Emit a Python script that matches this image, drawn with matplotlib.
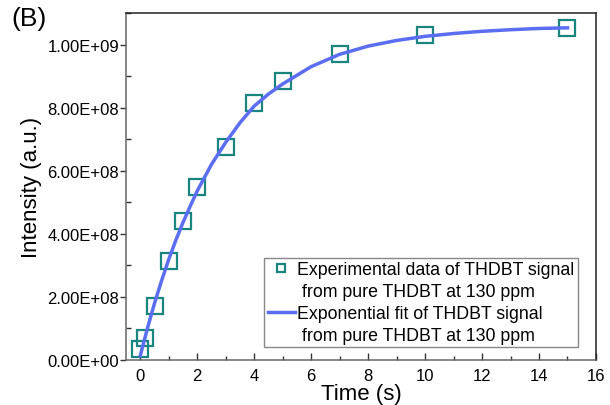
import matplotlib
matplotlib.use("Agg")
import matplotlib.pyplot as plt
from matplotlib.lines import Line2D
from matplotlib.ticker import FuncFormatter, MultipleLocator

plt.rcParams['font.family'] = ['Liberation Sans', 'DejaVu Sans']

# Experimental data
t_data = [0, 0.15, 0.5, 1, 1.5, 2, 3, 4, 5, 7, 10, 15]
i_data = [3.5e7, 7.0e7, 1.72e8, 3.15e8, 4.40e8, 5.50e8, 6.75e8, 8.16e8, 8.86e8, 9.71e8, 1.030e9, 1.053e9]

# Exponential fit curve
t_fit = [0, 0.25, 0.5, 0.75, 1, 1.25, 1.5, 1.75, 2, 2.5, 3, 3.5, 4, 4.5, 5, 6, 7, 8, 9, 10, 11, 12, 13, 14, 15]
i_fit = [1.4e7, 1.00e8, 1.80e8, 2.52e8, 3.19e8, 3.80e8, 4.36e8, 4.87e8, 5.36e8, 6.20e8, 6.90e8, 7.52e8,
         8.05e8, 8.43e8, 8.75e8, 9.30e8, 9.69e8, 9.95e8, 1.013e9, 1.026e9, 1.035e9, 1.042e9, 1.047e9,
         1.051e9, 1.053e9]

x_ticks = [0, 2, 4, 6, 8, 10, 12, 14, 16]
y_ticks = [0, 2e8, 4e8, 6e8, 8e8, 1e9]

label_data = ["Experimental data of THDBT signal", " from pure THDBT at 130 ppm"]
label_fit = ["Exponential fit of THDBT signal", " from pure THDBT at 130 ppm"]

fig = plt.figure(figsize=(6.1, 4.06), dpi=100)
ax = fig.add_axes([0.2066, 0.1108, 0.977 - 0.2066, 0.9655 - 0.1108])

h_data, = ax.plot(t_data, i_data, linestyle='none', marker='s', markersize=11, markerfacecolor='none',
                  markeredgecolor='#1a857e', markeredgewidth=1.6, zorder=2)
h_fit, = ax.plot(t_fit, i_fit, color='#5b6ef2', linewidth=2.5, zorder=3)

ax.set_xlim(-0.5, 16)
ax.set_ylim(0, 1.1e9)
ax.set_xticks(x_ticks)
ax.set_yticks(y_ticks)
ax.xaxis.set_minor_locator(MultipleLocator(1))
ax.yaxis.set_minor_locator(MultipleLocator(1e8))
ax.yaxis.set_major_formatter(FuncFormatter(lambda v, p: f"{v:.2E}"))

ax.tick_params(axis='y', which='major', direction='out', length=4, width=1, labelsize=12, colors='#333333', labelcolor='black', pad=1)
ax.tick_params(axis='y', which='minor', direction='in', length=3.5, width=1, colors='#333333')
ax.tick_params(axis='x', which='major', direction='in', length=5, width=1, labelsize=12, colors='#333333', labelcolor='black', pad=6)
ax.tick_params(axis='x', which='minor', direction='in', length=3, width=1, colors='#333333')

for side in ['left', 'bottom']:
    ax.spines[side].set_color('#666666')
for side in ['top', 'right']:
    ax.spines[side].set_color('#222222')
for s in ax.spines.values():
    s.set_linewidth(1.1)

ax.set_xlabel("Time (s)", fontsize=16, labelpad=0)
ax.set_ylabel("Intensity (a.u.)", fontsize=16, labelpad=4)

blank = Line2D([], [], linestyle='none', marker=None)
handles = [h_data, blank, h_fit, blank]
labels = [label_data[0], label_data[1], label_fit[0], label_fit[1]]
leg = ax.legend(handles, labels, loc='lower right', bbox_to_anchor=(0.962, 0.037), fontsize=12.8,
                frameon=True, fancybox=False, edgecolor='#888888', framealpha=1, borderpad=0.2,
                labelspacing=0.27, handlelength=1.5, handletextpad=0.15, borderaxespad=0,
                markerscale=0.55)
leg.get_frame().set_linewidth(1.0)

fig.text(0.018, 0.935, "(B)", fontsize=19)

fig.savefig("out.png", dpi=100)
